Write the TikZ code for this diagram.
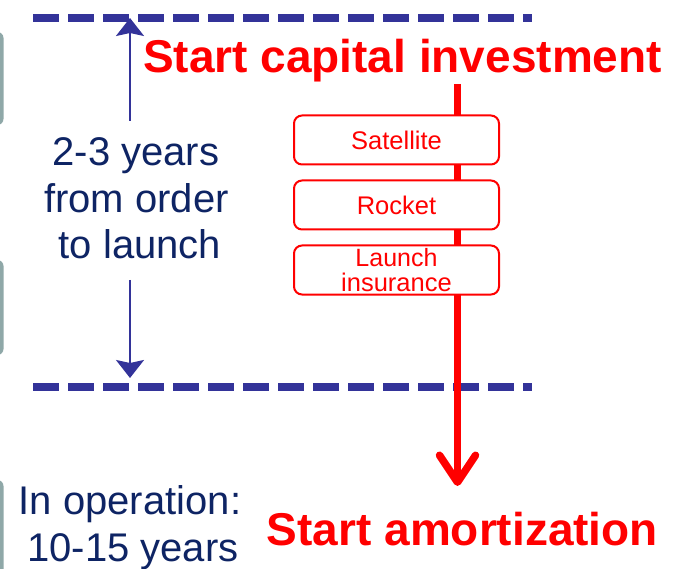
\documentclass[tikz,border=0pt]{standalone}
\usepackage{fontspec}
\setmainfont{Liberation Sans}
\usetikzlibrary{arrows.meta}
\definecolor{dashblue}{RGB}{51,51,153}
\definecolor{navytext}{RGB}{14,36,100}
\definecolor{greyedge}{RGB}{143,168,168}
\definecolor{redc}{RGB}{255,0,0}
\tikzset{
  dashline/.style={draw=dashblue, line width=8pt, dash pattern=on 26pt off 9pt},
  bluearrow/.style={draw=dashblue, line width=2pt, -{Stealth[length=18pt,width=28pt,inset=3pt]}},
  redarrow/.style={draw=redc, line width=7.5pt, -{Straight Barb[length=27pt,width=36pt,round]}},
  costbox/.style={draw=redc, line width=2pt, fill=white, rounded corners=8pt,
    minimum width=205pt, minimum height=49pt, inner sep=0pt,
    font=\fontsize{25.5}{25}\selectfont, text=redc, align=center},
  navylabel/.style={text=navytext, font=\fontsize{40}{46}\selectfont, anchor=base, inner sep=0pt},
  bigred/.style={text=redc, font=\bfseries\fontsize{46}{46}\selectfont, anchor=base, inner sep=0pt},
  greypanel/.style={fill=greyedge, rounded corners=6pt}
}
\begin{document}
\begin{tikzpicture}[x=1pt,y=-1pt]
\useasboundingbox (0,0) rectangle (685,569);
% partial grey panels at left edge
\fill[greypanel] (-40,32) rectangle (3.5,125);
\fill[greypanel] (-40,260) rectangle (3.5,355);
\fill[greypanel] (-40,480) rectangle (3.5,640);
% dashed lines
\coordinate (tl) at (33,18);
\coordinate (tr) at (532,18);
\coordinate (bl) at (33,387);
\coordinate (br) at (532,387);
\draw[dashline] (tl) -- (tr);
\draw[dashline] (bl) -- (br);
% red vertical arrow
\coordinate (rtop) at (457.5,84);
\coordinate (rbot) at (457.5,486);
\draw[redarrow] (rtop) -- (rbot);
% cost boxes
\node[costbox] (sat) at (396.5,140) {Satellite};
\node[costbox] (rock) at (396.5,205) {Rocket};
\node[costbox] (ins) at (396.5,270) {\fontsize{25}{25}\selectfont Launch\\insurance};
% blue arrows
\coordinate (upfrom) at (130,121);
\coordinate (upto) at (130,18);
\coordinate (downfrom) at (130,280);
\coordinate (downto) at (130,378);
\draw[bluearrow] (upfrom) -- (upto);
\draw[bluearrow] (downfrom) -- (downto);
% left texts
\node[navylabel] (l1) at (136,166) {2-3 years};
\node[navylabel] (l2) at (136.5,213) {from order};
\node[navylabel] (l3) at (140,259) {to launch};
\node[navylabel] (o1) at (130,514) {In operation:};
\node[navylabel] (o2) at (133,561) {10-15 years};
% red headings
\node[bigred] (start) at (402.5,73) {Start capital investment};
\node[bigred] (amort) at (462.5,545) {Start amortization};
\end{tikzpicture}
\end{document}
